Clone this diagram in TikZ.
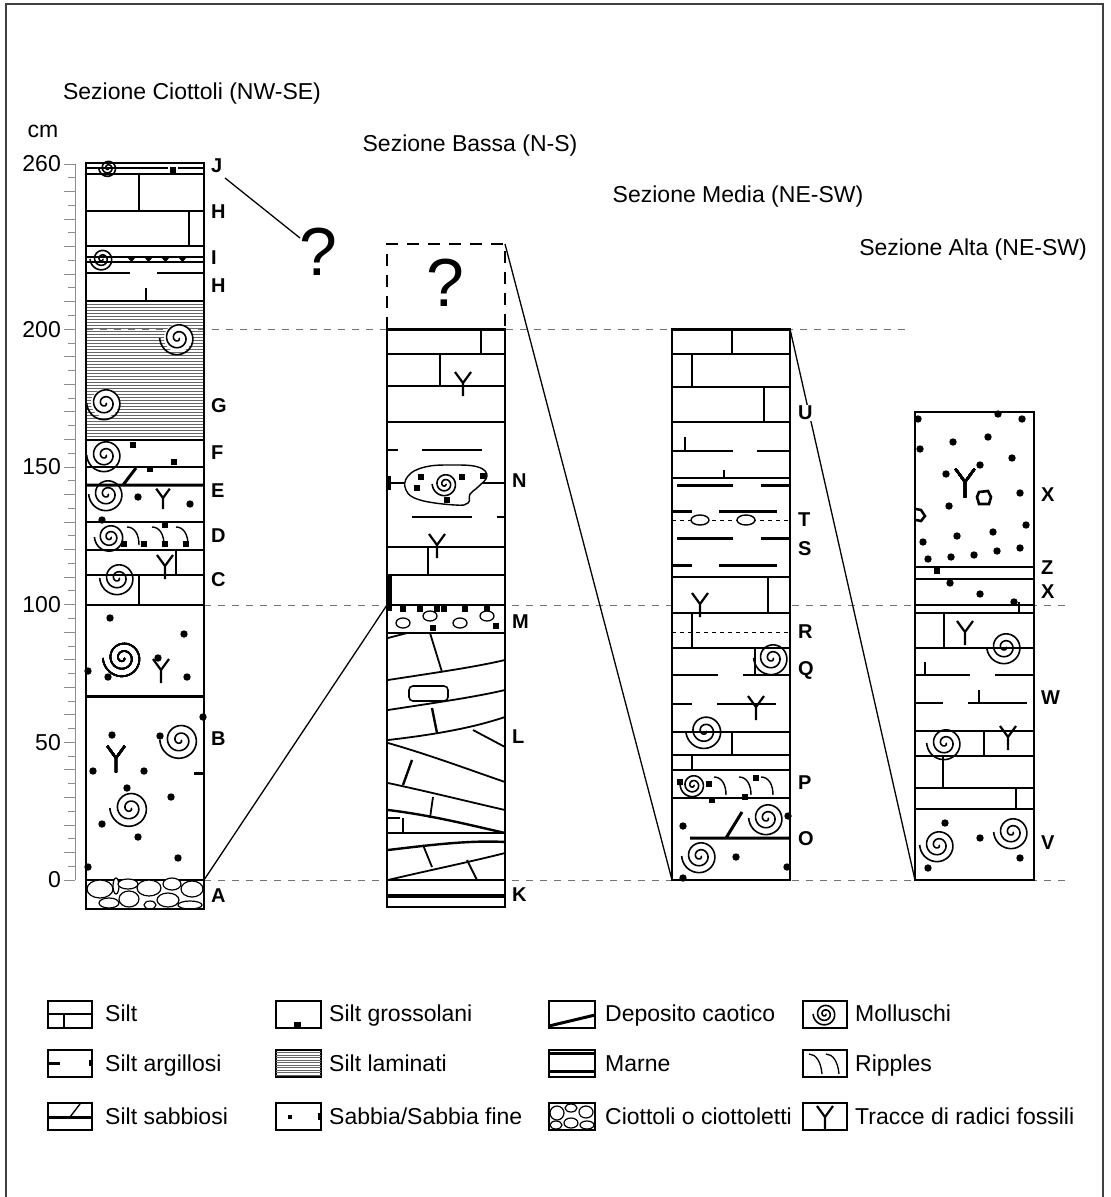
\documentclass[tikz,border=0pt]{standalone}
\usepackage{fontspec}
\setmainfont{Liberation Sans}
\usetikzlibrary{positioning}
\tikzset{
  col/.style={draw, line width=1.8pt, fill=white},
  bed/.style={line width=1.4pt},
  boldbed/.style={line width=3pt},
  lam/.style={line width=0.5pt, black!60},
  ref/.style={dash pattern=on 7pt off 7pt, line width=0.7pt, black!55},
  fine/.style={dash pattern=on 4pt off 4pt, line width=1pt},
  link/.style={line width=1.3pt},
  scaleaxis/.style={line width=0.8pt, black!45},
  title/.style={font=\fontsize{23}{27}\selectfont},
  lab/.style={font=\fontsize{20}{24}\selectfont\bfseries, anchor=west, inner sep=1pt},
  legtext/.style={font=\fontsize{23}{27}\selectfont, anchor=base west, inner sep=0pt},
  legbox/.style={draw, line width=1.4pt},
  pebble/.style={line width=1.2pt, fill=white},
  mollusc/.pic={\draw[line width=1.6pt] plot[domain=0:900,samples=100,smooth] (\x:{1+\x/52});},
  root/.pic={\draw[line width=2.2pt] (-8,-11) -- (0,0) -- (8,-11) (0,0) -- (0,13);},
  ripple/.pic={\draw[line width=1.4pt] (0,0) .. controls (8,0) and (12,8) .. (12,18);}
}
\newcommand{\grain}[2]{\fill (#1,#2) circle (3.7);}
\newcommand{\chip}[2]{\fill (#1-2.8,#2-2.8) rectangle (#1+2.8,#2+2.8);}

\begin{document}
\begin{tikzpicture}[x=1pt,y=-1pt]
\useasboundingbox (0,0) rectangle (1111,1197);
\draw[line width=1.2pt, black!75] (6,1197) -- (6,4) -- (1103,4) -- (1103,1197);

\node[title] (tC) at (192,94) {Sezione Ciottoli (NW-SE)};
\node[title] (tB) at (470,146) {Sezione Bassa (N-S)};
\node[title] (tM) at (738,197) {Sezione Media (NE-SW)};
\node[title] (tA) at (973,250) {Sezione Alta (NE-SW)};
\node[title] (cm) at (43,131) {cm};

\draw[scaleaxis] (75,164) -- (75,880);
\foreach \k in {0,...,52} {
  \pgfmathsetmacro{\ty}{880-13.77*\k}
  \pgfmathsetmacro{\tx}{ifthenelse(mod(\k,2)==0,64,68)}
  \draw[scaleaxis] (\tx,\ty) -- (75,\ty);
}
\foreach \v in {0,50,100,150,200,260}
  \node[title, anchor=east, inner sep=0pt] (ax\v) at (61,{880-2.754*\v}) {\v};

\draw[ref] (86,329) -- (905,329);
\draw[ref] (204,605) -- (1072,605);
\draw[ref] (204,880) -- (1072,880);

% Sezione Ciottoli
\draw[col] (86,163) rectangle (204,909);
\draw[bed] (86,168) -- (168,168) (178,168) -- (204,168);
\draw[bed] (86,174) -- (204,174);
\chip{173}{170}
\pic[scale=0.5] at (108,168) {mollusc};
\draw[bed] (139,174) -- (139,211) (86,211) -- (204,211) (189,211) -- (189,246) (86,246) -- (204,246);
\draw[bed] (86,257) -- (204,257) (86,262) -- (204,262);
\foreach \x in {127,144,161,178}
  \fill (\x,257) -- (\x+9,257) -- (\x+4.5,262) -- cycle;
\pic[scale=0.65] at (102,259) {mollusc};
\draw[bed] (86,273) -- (130,273) (157,273) -- (204,273) (146,288) -- (146,301);
\draw[bed] (86,301) -- (204,301);
\foreach \y in {304,307,...,438}
  \draw[lam] (86,\y) -- (204,\y);
\draw[ref] (86,329) -- (204,329);
\fill[white] (178,338) circle (14);
\pic at (178,338) {mollusc};
\fill[white] (105,403) circle (14);
\pic at (105,403) {mollusc};
\draw[bed] (86,440) -- (204,440);
\pic at (105,455) {mollusc};
\chip{133}{445} \chip{174}{462} \chip{150}{469}
\draw[bed] (86,467) -- (204,467);
\draw[boldbed] (86,485) -- (204,485) (123,485) -- (136,468);
\pic at (107,494) {mollusc};
\grain{138}{497} \grain{190}{504} \grain{102}{520}
\pic[scale=0.85] at (163,498) {root};
\draw[bed] (86,522) -- (204,522);
\pic[scale=0.85] at (110,537) {mollusc};
\foreach \x in {127,152,176}
  \pic at (\x,527) {ripple};
\foreach \x in {124,144,165,186}
  \chip{\x}{544}
\chip{165}{525}
\draw[bed] (86,550) -- (204,550) (176,550) -- (176,575) (86,575) -- (204,575) (139,575) -- (139,605);
\pic at (165,566) {root};
\pic at (118,578) {mollusc};
\draw[bed] (86,605) -- (204,605);
\foreach \x/\y in {110/618,184/634,158/658,108/677,187/677,88/671}
  \grain{\x}{\y}
\pic[scale=1.1] at (123,658) {mollusc};
\pic at (161,670) {root};
\draw[boldbed] (86,696) -- (204,696);
\foreach \x/\y in {112/735,160/736,93/771,144/771,127/788,171/797,102/824,138/837,178/858,88/867,203/717}
  \grain{\x}{\y}
\pic[scale=1.1] at (116,758) {root};
\pic[scale=1.1] at (180,740) {mollusc};
\pic[scale=1.1] at (130,808) {mollusc};
\draw[boldbed] (194,773) -- (204,773);
\draw[bed] (86,880) -- (204,880);
\foreach \x/\y/\a/\b in {100/889/13/9,116/886/3/8,128/884/10/5,149/888/12/8,172/884/9/6,192/889/11/8,109/903/10/5,129/899/10/8,150/905/6/4,168/900/11/7,190/905/12/4}
  \draw[pebble] (\x,\y) ellipse [x radius=\a, y radius=\b];
\draw[col, fill=none] (86,163) rectangle (204,909);

\node[lab] (lJ) at (210,166) {J};
\node[lab] (lH1) at (210,212) {H};
\node[lab] (lI) at (210,258) {I};
\node[lab] (lH2) at (210,286) {H};
\node[lab] (lG) at (210,406) {G};
\node[lab] (lF) at (210,453) {F};
\node[lab] (lE) at (210,491) {E};
\node[lab] (lD) at (210,536) {D};
\node[lab] (lC) at (210,580) {C};
\node[lab] (lB) at (210,739) {B};
\node[lab] (lA) at (210,896) {A};

\node[font=\fontsize{68}{70}\selectfont] (q1) at (318,252) {?};
\coordinate (jend) at (225,178);
\coordinate (qend) at (300,238);
\draw[link] (jend) -- (qend);

% Sezione Bassa
\draw[line width=1.5pt, dash pattern=on 12pt off 9pt] (387,329) -- (387,244) -- (505,244) -- (505,329);
\node[font=\fontsize{68}{70}\selectfont] (q2) at (445,283) {?};
\draw[col] (387,329) rectangle (505,907);
\draw[boldbed] (387,329) -- (505,329);
\draw[bed] (387,354) -- (505,354) (481,329) -- (481,354);
\draw[bed] (387,386) -- (505,386) (440,354) -- (440,386);
\pic at (463,383) {root};
\draw[bed] (387,422) -- (505,422);
\draw[bed] (387,450) -- (398,450) (422,450) -- (482,450);
\draw[bed] (387,483) -- (408,483) (483,483) -- (505,483);
\draw[boldbed] (389,476) -- (389,490);
\draw[line width=1.4pt, fill=white] plot[smooth cycle, tension=0.7] coordinates {(408,476) (425,467) (452,465) (478,467) (487,476) (478,487) (470,494) (468,503) (455,505) (420,500) (406,490)};
\pic[scale=0.7] at (445,484) {mollusc};
\chip{421}{477} \chip{417}{488} \chip{462}{477} \chip{483}{476} \chip{447}{500}
\draw[bed] (412,517) -- (472,517) (497,517) -- (505,517);
\pic at (437,545) {root};
\draw[bed] (387,547) -- (505,547) (428,547) -- (428,575) (387,575) -- (505,575);
\fill (387,575) rectangle (392,605);
\draw[bed] (387,605) -- (505,605);
\foreach \x/\y in {403/623,430/616,460/623,487/616}
  \draw[line width=1.3pt] (\x,\y) ellipse [x radius=7, y radius=5];
\foreach \x/\y in {389/608,403/609,420/609,437/609,444/609,465/609,487/608,433/628,496/626}
  \chip{\x}{\y}
\draw[bed] (387,633) -- (505,633);
\draw[line width=1.8pt] (388,638) -- (407,633);
\draw[line width=1.8pt] (430,633) -- (442,672);
\draw[line width=1.8pt] (388,680) .. controls (440,672) and (475,667) .. (505,660);
\draw[line width=1.6pt, rounded corners=4pt] (409,686) rectangle (448,701);
\draw[line width=1.8pt] (388,710) .. controls (440,702) and (475,697) .. (505,690);
\draw[line width=2.4pt] (432,708) -- (437,733);
\draw[line width=1.8pt] (388,740) .. controls (440,734) and (475,727) .. (505,717);
\draw[line width=1.8pt] (473,730) -- (505,747);
\draw[line width=1.8pt] (388,743) .. controls (430,755) and (470,770) .. (505,782);
\draw[line width=2.4pt] (412,760) -- (403,785);
\draw[line width=1.8pt] (388,783) .. controls (430,792) and (470,802) .. (505,810);
\draw[line width=1.8pt] (433,797) -- (430,818);
\draw[line width=2.4pt] (388,810) .. controls (430,815) and (470,825) .. (505,833);
\draw[line width=1.4pt] (388,818) -- (400,818) (403,818) -- (403,832);
\draw[line width=1.4pt] (388,833) -- (505,833);
\draw[line width=2.4pt] (388,850) .. controls (430,845) and (470,840) .. (505,842);
\draw[line width=1.8pt] (423,845) -- (432,867);
\draw[line width=1.8pt] (388,880) .. controls (430,870) and (470,862) .. (505,853);
\draw[line width=1.8pt] (467,860) -- (477,880);
\draw[bed] (387,880) -- (505,880);
\draw[line width=4pt] (387,896) -- (505,896);
\draw[col, fill=none] (387,329) rectangle (505,907);

\node[lab] (lN) at (511,481) {N};
\node[lab] (lM) at (511,622) {M};
\node[lab] (lL) at (511,737) {L};
\node[lab] (lK) at (511,895) {K};

% Sezione Media
\draw[col] (672,329) rectangle (790,880);
\draw[boldbed] (672,329) -- (790,329);
\draw[bed] (672,354) -- (790,354) (732,329) -- (732,354);
\draw[bed] (672,387) -- (790,387) (692,354) -- (692,387);
\draw[bed] (672,422) -- (790,422) (764,387) -- (764,422);
\draw[bed] (672,451) -- (733,451) (757,451) -- (790,451) (685,437) -- (685,451);
\draw[bed] (672,478) -- (790,478) (724,470) -- (724,478);
\draw[boldbed] (677,485) -- (733,485) (761,485) -- (790,485);
\draw[boldbed] (672,511) -- (692,511) (719,511) -- (777,511);
\draw[fine] (672,520) -- (790,520);
\draw[bed, fill=white] (700,520) ellipse [x radius=9, y radius=5] (746,520) ellipse [x radius=9, y radius=5];
\draw[boldbed] (677,538) -- (733,538) (761,538) -- (790,538);
\draw[boldbed] (672,565) -- (692,565) (719,565) -- (777,565);
\draw[bed] (672,577) -- (790,577) (768,577) -- (768,613);
\pic at (700,604) {root};
\draw[bed] (672,613) -- (790,613) (692,613) -- (692,648);
\draw[fine] (672,632) -- (790,632);
\draw[bed] (672,648) -- (790,648) (755,648) -- (755,675);
\pic at (772,658) {mollusc};
\draw[bed] (672,675) -- (718,675) (743,675) -- (790,675);
\draw[bed] (672,704) -- (692,704) (717,704) -- (776,704);
\pic at (756,707) {root};
\pic[scale=1.05] at (705,731) {mollusc};
\draw[bed] (672,732) -- (790,732) (732,732) -- (732,755);
\draw[bed] (672,755) -- (790,755) (692,755) -- (692,770);
\draw[bed] (672,770) -- (790,770);
\pic[scale=0.7] at (693,785) {mollusc};
\foreach \x in {714,739,761}
  \pic at (\x,777) {ripple};
\foreach \x/\y in {680/782,709/784,756/778,712/800,745/797}
  \chip{\x}{\y}
\draw[bed] (672,798) -- (790,798);
\draw[boldbed] (690,838) -- (790,838) (726,838) -- (742,812);
\pic at (767,818) {mollusc};
\pic at (700,856) {mollusc};
\foreach \x/\y in {683/826,736/857,787/867,683/878,788/816}
  \grain{\x}{\y}
\draw[col, fill=none] (672,329) rectangle (790,880);

% Sezione Alta
\draw[col] (915,412) rectangle (1034,880);
\foreach \x/\y in {918/419,998/414,1022/419,953/442,988/437,920/449,1012/458,980/465,946/474,1020/493,949/506,1026/525,957/536,993/532,923/542,928/559,951/557,974/555,997/551,1020/548}
  \grain{\x}{\y}
\pic[scale=1.2] at (965,482) {root};
\draw[line width=2.6pt] (979,492) -- (988,491) -- (991,497) -- (989,504) -- (979,504) -- (977,497) -- cycle;
\draw[line width=2.6pt] (916,509) -- (921,510) -- (925,516) -- (921,521) -- (916,520);
\draw[bed] (915,567) -- (1034,567) (915,579) -- (1034,579);
\chip{937}{571}
\grain{950}{583} \grain{980}{594} \grain{1014}{602}
\draw[bed] (1019,602) -- (1019,613);
\draw[bed] (915,605) -- (1034,605) (915,613) -- (1034,613);
\draw[bed] (944,613) -- (944,648);
\pic at (965,632) {root};
\pic at (1005,647) {mollusc};
\draw[bed] (915,648) -- (1034,648);
\draw[bed] (915,675) -- (970,675) (995,675) -- (1034,675) (925,662) -- (925,675);
\draw[bed] (915,703) -- (943,703) (968,703) -- (1027,703) (979,690) -- (979,703);
\draw[bed] (915,731) -- (1034,731) (984,731) -- (984,756);
\pic at (945,743) {mollusc};
\pic at (1008,737) {root};
\draw[bed] (915,756) -- (1034,756) (943,756) -- (943,788);
\draw[bed] (915,788) -- (1034,788) (1016,788) -- (1016,809);
\draw[bed] (915,809) -- (1034,809);
\pic at (938,845) {mollusc};
\pic at (1012,832) {mollusc};
\foreach \x/\y in {945/823,980/838,1020/858,928/868}
  \grain{\x}{\y}
\draw[col, fill=none] (915,412) rectangle (1034,880);

\coordinate (c1b) at (204,880);
\coordinate (c2m) at (387,605);
\coordinate (c2t) at (505,244);
\coordinate (c3b) at (672,880);
\coordinate (c3t) at (790,329);
\coordinate (c4b) at (915,880);
\draw[link] (c1b) -- (c2m);
\draw[link] (c2t) -- (c3b);
\draw[link] (c3t) -- (c4b);

\node[lab, fill=white] (lU) at (797,413) {U};
\node[lab] (lT) at (797,520) {T};
\node[lab] (lS) at (797,549) {S};
\node[lab] (lR) at (797,632) {R};
\node[lab] (lQ) at (797,670) {Q};
\node[lab] (lP) at (797,783) {P};
\node[lab] (lO) at (797,839) {O};
\node[lab] (lX1) at (1040,495) {X};
\node[lab] (lZ) at (1040,568) {Z};
\node[lab] (lX2) at (1040,592) {X};
\node[lab] (lW) at (1040,698) {W};
\node[lab] (lV) at (1040,843) {V};

% legenda
\draw[legbox] (48,1001) rectangle (92,1028);
\draw[bed] (48,1014) -- (92,1014) (64,1014) -- (64,1028);
\node[legtext] (g1) at (105,1021) {Silt};
\draw[legbox] (48,1050) rectangle (92,1077);
\draw[boldbed] (48,1063) -- (60,1063) (90,1060) -- (90,1066);
\node[legtext] (g2) at (105,1071) {Silt argillosi};
\draw[legbox] (48,1103) rectangle (92,1130);
\draw[boldbed] (48,1117) -- (92,1117);
\draw[bed] (70,1117) -- (80,1104);
\node[legtext] (g3) at (105,1124) {Silt sabbiosi};

\draw[legbox] (276,1001) rectangle (321,1028);
\fill (294,1022) rectangle (301,1028);
\node[legtext] (g4) at (329,1021) {Silt grossolani};
\draw[legbox] (276,1050) rectangle (321,1077);
\foreach \y in {1052.5,1055,...,1075}
  \draw[lam] (276,\y) -- (321,\y);
\node[legtext] (g5) at (329,1071) {Silt laminati};
\draw[legbox] (276,1103) rectangle (321,1130);
\fill (288,1115) rectangle (292,1119);
\draw[boldbed] (319,1113) -- (319,1120);
\node[legtext] (g6) at (329,1124) {Sabbia/Sabbia fine};

\draw[legbox] (549,1001) rectangle (595,1028);
\draw[line width=3pt] (549,1026) -- (595,1015);
\node[legtext] (g7) at (605,1021) {Deposito caotico};
\draw[legbox] (549,1050) rectangle (595,1077);
\draw[line width=3pt] (549,1053) -- (595,1053) (549,1071) -- (595,1071);
\node[legtext] (g8) at (605,1071) {Marne};
\draw[legbox] (549,1103) rectangle (595,1130);
\foreach \x/\y/\a/\b in {557/1113/7/7,571/1108/6/4,586/1112/7/6,556/1125/6/4,571/1123/7/5,587/1125/7/4}
  \draw[pebble] (\x,\y) ellipse [x radius=\a, y radius=\b];
\node[legtext] (g9) at (605,1124) {Ciottoli o ciottoletti};

\draw[legbox] (803,1001) rectangle (847,1028);
\pic[scale=0.65] at (825,1014) {mollusc};
\node[legtext] (g10) at (855,1021) {Molluschi};
\draw[legbox] (803,1050) rectangle (847,1077);
\draw[line width=1.3pt] (809,1054) .. controls (816,1054) and (821,1062) .. (822,1074);
\draw[line width=1.3pt] (826,1054) .. controls (833,1054) and (838,1062) .. (839,1074);
\node[legtext] (g11) at (855,1071) {Ripples};
\draw[legbox] (803,1103) rectangle (847,1130);
\pic at (825,1117) {root};
\node[legtext] (g12) at (855,1124) {Tracce di radici fossili};
\end{tikzpicture}
\end{document}
